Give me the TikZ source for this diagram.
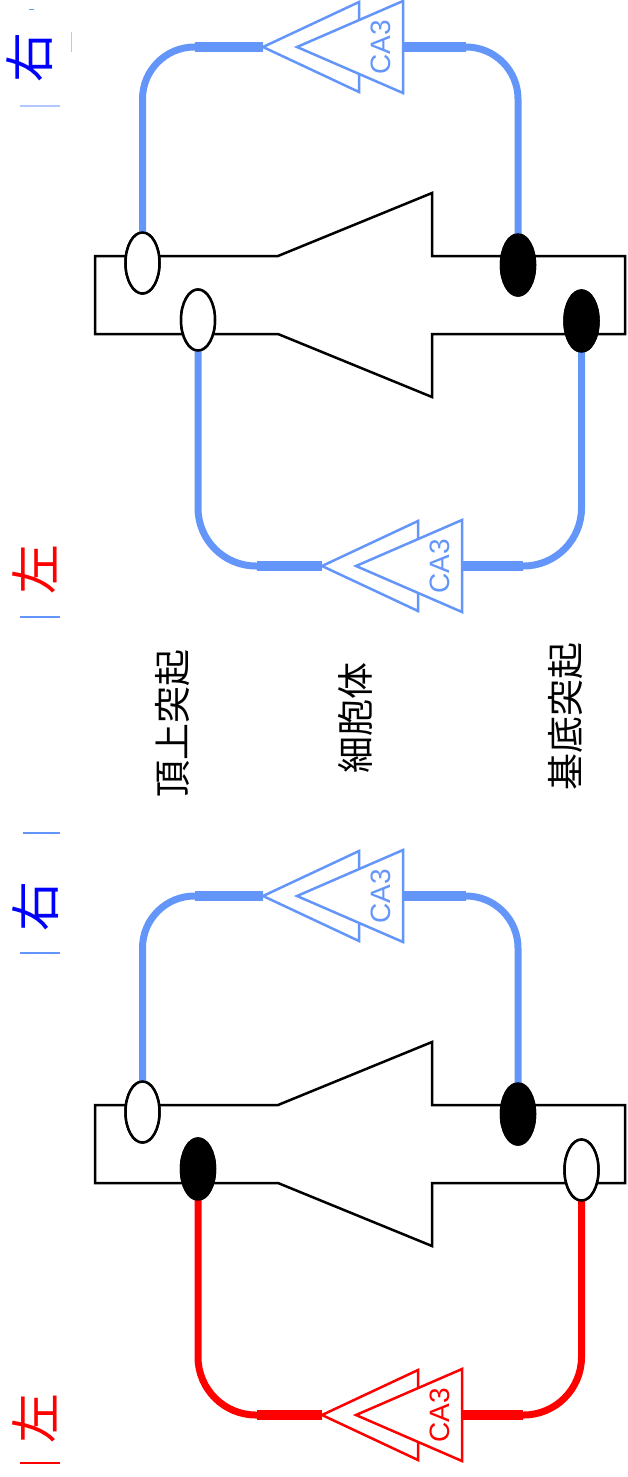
\documentclass[tikz,border=0pt]{standalone}
\usepackage{fontspec}
\setsansfont{Liberation Sans}
\newfontfamily\jpfont{Noto Sans CJK JP}
\usetikzlibrary{shapes.geometric}

\definecolor{axonblue}{RGB}{100,150,250}
\definecolor{paleblue}{RGB}{180,200,255}
\definecolor{labelblue}{RGB}{0,0,255}
\definecolor{labelred}{RGB}{255,0,0}

\tikzset{
  cellbody/.style={draw=black, line width=2.5pt, fill=white, line join=miter},
  synapse/.style={ellipse, draw=black, line width=2.5pt, minimum width=34pt,
    minimum height=61pt, inner sep=0pt, outer sep=0pt},
  opensyn/.style={synapse, fill=white},
  fullsyn/.style={synapse, fill=black},
  axon/.style={line width=7pt},
  trunk/.style={line width=10.5pt},
  wedge/.style={line width=2.5pt, fill=white, line join=miter},
  ca3label/.style={font=\sffamily\fontsize{28}{28}\selectfont, rotate=90, inner sep=0pt},
  sidelabel/.style={font=\jpfont\fontsize{50}{50}\selectfont, rotate=90, inner sep=0pt},
  partlabel/.style={font=\jpfont\fontsize{37}{37}\selectfont, rotate=90, inner sep=0pt},
  tick/.style={line width=2pt},
}

% CA3 symbol: two overlapping wedges pointing left, with a label
% #1 name, #2 x of the apex, #3 y of the axis, #4 colour
\newcommand\cathree[4]{%
  \coordinate (#1tip) at (#2,#3);
  \coordinate (#1base) at (#2+140,#3);
  \draw[wedge, draw=#4] (#1tip) -- (#2+96,#3-45) -- (#2+96,#3+45) -- cycle;
  \draw[wedge, draw=#4] (#2+34,#3) -- (#2+140,#3-46) -- (#2+140,#3+46) -- cycle;
  \node[ca3label, text=#4] (#1text) at (#2+118,#3) {CA3};
}

% pyramidal cell outline, shifted down by #1
\newcommand\pyramid[1]{%
  \draw[cellbody] (278,256+#1) -- (95,256+#1) -- (95,334+#1) -- (278,334+#1)
    -- (432,397+#1) -- (432,334+#1) -- (625,334+#1) -- (625,256+#1)
    -- (432,256+#1) -- (432,193+#1) -- cycle;
}

\begin{document}
\begin{tikzpicture}[x=1pt, y=-1pt]
\useasboundingbox (0,0) rectangle (627,1477);

% ---------- upper panel ----------
\pyramid{0}
\node[opensyn] (tA1) at (142.5,263) {};
\node[opensyn] (tA2) at (198,320) {};
\node[fullsyn] (tB1) at (518,265) {};
\node[fullsyn] (tB2) at (581.5,321) {};

\coordinate (tUin) at (263,47);
\coordinate (tLin) at (322,566);
\draw[axon, axonblue, rounded corners=52pt] (tA1.north) |- (tUin);
\draw[axon, axonblue, rounded corners=52pt] (tUin) ++(140,0) coordinate (tUout) -| (tB1.north);
\draw[axon, axonblue, rounded corners=58pt] (tA2.south) |- (tLin);
\draw[axon, axonblue, rounded corners=58pt] (tLin) ++(140,0) coordinate (tLout) -| (tB2.south);
\draw[trunk, axonblue] (tUin) -- ++(-68,0);
\draw[trunk, axonblue] (tUout) -- ++(63,0);
\draw[trunk, axonblue] (tLin) -- ++(-65,0);
\draw[trunk, axonblue] (tLout) -- ++(61,0);
\cathree{tU}{263}{47}{axonblue}
\cathree{tL}{322}{566}{axonblue}
\node[opensyn] at (tA1) {};
\node[opensyn] at (tA2) {};
\node[fullsyn] at (tB1) {};
\node[fullsyn] at (tB2) {};

% ---------- lower panel ----------
\pyramid{849}
\coordinate (bUin) at (263,896);
\coordinate (bLin) at (322,1415);
\node[opensyn] (bA1) at (142.5,1112) {};
\node[fullsyn] (bA2) at (198,1169) {};
\node[fullsyn] (bB1) at (518,1114) {};
\node[opensyn] (bB2) at (581.5,1170) {};
\draw[axon, axonblue, rounded corners=52pt] (bA1.north) |- (bUin);
\draw[axon, axonblue, rounded corners=52pt] (bUin) ++(140,0) coordinate (bUout) -| (bB1.north);
\draw[axon, red, rounded corners=58pt] (bA2.south) |- (bLin);
\draw[axon, red, rounded corners=58pt] (bLin) ++(140,0) coordinate (bLout) -| (bB2.south);
\draw[trunk, axonblue] (bUin) -- ++(-68,0);
\draw[trunk, axonblue] (bUout) -- ++(63,0);
\draw[trunk, red] (bLin) -- ++(-65,0);
\draw[trunk, red] (bLout) -- ++(61,0);
\cathree{bU}{263}{896}{axonblue}
\cathree{bL}{322}{1415}{red}
\node[opensyn] at (bA1) {};
\node[fullsyn] at (bA2) {};
\node[fullsyn] at (bB1) {};
\node[opensyn] at (bB2) {};

% ---------- labels ----------
\node[sidelabel, text=labelblue] (rightTop) at (30,58) {右};
\node[sidelabel, text=labelred] (leftTop) at (35,569) {左};
\node[sidelabel, text=labelblue] (rightBot) at (35.5,906) {右};
\node[sidelabel, text=labelred] (leftBot) at (35,1418) {左};

\node[partlabel] (apical) at (173,723) {頂上突起};
\node[partlabel] (soma) at (355,718) {細胞体};
\node[partlabel] (basal) at (565.5,716) {基底突起};

% small marks at the left margin
\draw[axonblue, line width=1pt] (29,10) -- (34,10);
\draw[paleblue, line width=1pt] (71,32) -- (71,52);
\draw[tick, paleblue] (20,106) -- (60,106);
\draw[tick, axonblue] (20,617) -- (60,617);
\draw[tick, axonblue] (23,833) -- (60,833);
\draw[tick, axonblue] (20,953) -- (60,953);
\draw[tick, red] (20,1463) -- (60,1463);
\end{tikzpicture}
\end{document}
